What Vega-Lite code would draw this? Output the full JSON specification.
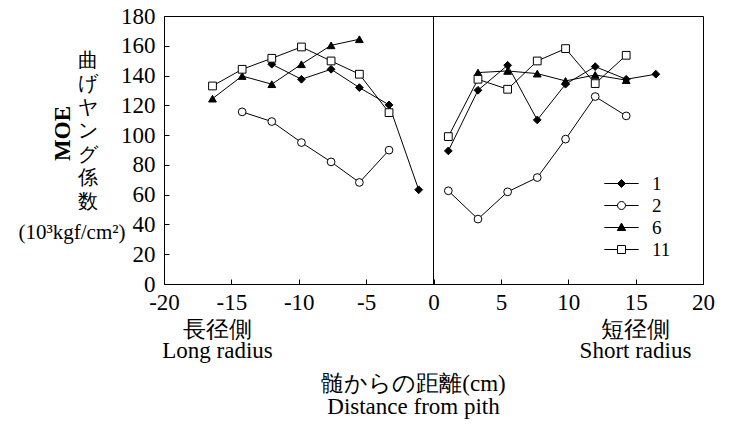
{
  "$schema": "https://vega.github.io/schema/vega-lite/v6.json",
  "width": 539,
  "height": 268,
  "autosize": {"type": "none"},
  "padding": {"left": 164, "top": 16, "right": 27, "bottom": 145},
  "background": "white",
  "data": {
    "values": [
      {"series": "1", "side": "L", "x": -12.0, "y": 147.6},
      {"series": "1", "side": "L", "x": -9.8, "y": 137.5},
      {"series": "1", "side": "L", "x": -7.6, "y": 144.2},
      {"series": "1", "side": "L", "x": -5.5, "y": 131.9},
      {"series": "1", "side": "L", "x": -3.3, "y": 120.3},
      {"series": "1", "side": "L", "x": -1.1, "y": 63.3},
      {"series": "1", "side": "R", "x": 1.1, "y": 89.4},
      {"series": "1", "side": "R", "x": 3.3, "y": 130.1},
      {"series": "1", "side": "R", "x": 5.5, "y": 146.9},
      {"series": "1", "side": "R", "x": 7.7, "y": 110.2},
      {"series": "1", "side": "R", "x": 9.8, "y": 134.2},
      {"series": "1", "side": "R", "x": 12.0, "y": 146.0},
      {"series": "1", "side": "R", "x": 14.3, "y": 137.5},
      {"series": "1", "side": "R", "x": 16.5, "y": 140.9},
      {"series": "2", "side": "L", "x": -14.2, "y": 115.6},
      {"series": "2", "side": "L", "x": -12.0, "y": 109.1},
      {"series": "2", "side": "L", "x": -9.8, "y": 95.0},
      {"series": "2", "side": "L", "x": -7.6, "y": 82.0},
      {"series": "2", "side": "L", "x": -5.5, "y": 68.2},
      {"series": "2", "side": "L", "x": -3.3, "y": 89.9},
      {"series": "2", "side": "R", "x": 1.1, "y": 62.6},
      {"series": "2", "side": "R", "x": 3.3, "y": 43.6},
      {"series": "2", "side": "R", "x": 5.5, "y": 61.9},
      {"series": "2", "side": "R", "x": 7.7, "y": 71.5},
      {"series": "2", "side": "R", "x": 9.8, "y": 97.3},
      {"series": "2", "side": "R", "x": 12.0, "y": 125.9},
      {"series": "2", "side": "R", "x": 14.3, "y": 112.9},
      {"series": "6", "side": "L", "x": -16.4, "y": 124.5},
      {"series": "6", "side": "L", "x": -14.2, "y": 139.7},
      {"series": "6", "side": "L", "x": -12.0, "y": 134.2},
      {"series": "6", "side": "L", "x": -9.8, "y": 147.6},
      {"series": "6", "side": "L", "x": -7.6, "y": 160.3},
      {"series": "6", "side": "L", "x": -5.5, "y": 164.4},
      {"series": "6", "side": "R", "x": 3.3, "y": 142.0},
      {"series": "6", "side": "R", "x": 5.5, "y": 143.1},
      {"series": "6", "side": "R", "x": 7.7, "y": 141.3},
      {"series": "6", "side": "R", "x": 9.8, "y": 136.4},
      {"series": "6", "side": "R", "x": 12.0, "y": 140.4},
      {"series": "6", "side": "R", "x": 14.3, "y": 136.9},
      {"series": "11", "side": "L", "x": -16.4, "y": 133.0},
      {"series": "11", "side": "L", "x": -14.2, "y": 144.2},
      {"series": "11", "side": "L", "x": -12.0, "y": 151.6},
      {"series": "11", "side": "L", "x": -9.8, "y": 159.2},
      {"series": "11", "side": "L", "x": -7.6, "y": 149.8},
      {"series": "11", "side": "L", "x": -5.5, "y": 140.9},
      {"series": "11", "side": "L", "x": -3.3, "y": 115.1},
      {"series": "11", "side": "R", "x": 1.1, "y": 99.0},
      {"series": "11", "side": "R", "x": 3.3, "y": 137.5},
      {"series": "11", "side": "R", "x": 5.5, "y": 130.8},
      {"series": "11", "side": "R", "x": 7.7, "y": 149.8},
      {"series": "11", "side": "R", "x": 9.8, "y": 158.1},
      {"series": "11", "side": "R", "x": 12.0, "y": 134.6},
      {"series": "11", "side": "R", "x": 14.3, "y": 153.6}
    ]
  },
  "layer": [
    {
      "mark": {"type": "line", "color": "black", "strokeWidth": 1},
      "encoding": {
        "x": {
          "field": "x", "type": "quantitative",
          "scale": {"domain": [-20, 20], "nice": false},
          "axis": {
            "values": [-20, -15, -10, -5, 0, 5, 10, 15, 20],
            "labelExpr": "'' + datum.value",
            "labelFlush": false,
            "tickSize": -5,
            "labelPadding": 12,
            "labelFont": "Liberation Serif",
            "labelFontSize": 23,
            "title": ["長径側", "Long radius"],
            "titleFont": "Liberation Serif",
            "titleX": 53, "titleY": 52,
            "titleAlign": "center", "titleBaseline": "alphabetic", "titleAngle": 0,
            "titleFontSize": 23, "titleLineHeight": 21
          }
        },
        "y": {
          "field": "y", "type": "quantitative",
          "scale": {"domain": [0, 180], "nice": false},
          "axis": {
            "values": [0, 20, 40, 60, 80, 100, 120, 140, 160, 180],
            "tickSize": -5,
            "labelPadding": 14,
            "labelFont": "Liberation Serif",
            "labelFontSize": 23,
            "title": "MOE",
            "titleFont": "Liberation Serif",
            "titleFontWeight": "bold",
            "titleAngle": 270,
            "titleX": -102, "titleY": 117,
            "titleAlign": "center", "titleBaseline": "middle",
            "titleFontSize": 23
          }
        },
        "detail": [{"field": "series"}, {"field": "side"}]
      }
    },
    {
      "mark": {"type": "point", "filled": true, "size": 60, "strokeWidth": 1, "opacity": 1},
      "encoding": {
        "x": {
          "field": "x", "type": "quantitative",
          "axis": {
            "orient": "bottom", "labels": false, "ticks": false, "domain": false,
            "title": ["短径側", "Short radius"],
            "titleFont": "Liberation Serif",
            "titleX": 471, "titleY": 52,
            "titleAlign": "center", "titleBaseline": "alphabetic", "titleAngle": 0,
            "titleFontSize": 23, "titleLineHeight": 21
          }
        },
        "y": {
          "field": "y", "type": "quantitative",
          "axis": {
            "orient": "left", "labels": false, "ticks": false, "domain": false,
            "title": ["曲", "げ", "ヤ", "ン", "グ", "係", "数"],
            "titleFont": "Liberation Serif",
            "titleX": -77, "titleY": 50,
            "titleAngle": 0, "titleAlign": "center", "titleBaseline": "alphabetic",
            "titleFontSize": 20, "titleLineHeight": 23.5
          }
        },
        "shape": {
          "field": "series", "type": "nominal",
          "scale": {"domain": ["1", "2", "6", "11"], "range": ["diamond", "circle", "triangle-up", "square"]},
          "legend": null
        },
        "fill": {
          "field": "series", "type": "nominal",
          "scale": {"domain": ["1", "2", "6", "11"], "range": ["black", "white", "black", "white"]},
          "legend": null
        },
        "stroke": {
          "field": "series", "type": "nominal",
          "scale": {"domain": ["1", "2", "6", "11"], "range": ["black", "black", "black", "black"]},
          "legend": null
        }
      }
    },
    {
      "transform": [{"filter": "false"}],
      "mark": {"type": "point", "filled": true, "strokeWidth": 1, "opacity": 1},
      "encoding": {
        "x": {"field": "x", "type": "quantitative", "axis": null},
        "y": {"field": "y", "type": "quantitative", "axis": null},
        "shape": {
          "field": "series", "type": "nominal",
          "scale": {"domain": ["1", "2", "6", "11"], "range": [
            "M-4.3,0H4.3M0,-1L1,0L0,1L-1,0Z",
            "M-4.3,0H-1M1,0H4.3M1,0C1,0.55 0.55,1 0,1C-0.55,1 -1,0.55 -1,0C-1,-0.55 -0.55,-1 0,-1C0.55,-1 1,-0.55 1,0Z",
            "M-4.3,0H4.3M0,-1.1L1.05,0.75L-1.05,0.75Z",
            "M-4.3,0H-1M1,0H4.3M-1,-1H1V1H-1Z"
          ]},
          "legend": {
            "orient": "none", "legendX": 448, "legendY": 158, "title": null,
            "labelFont": "Liberation Serif", "labelFontSize": 19, "labelOffset": 21, "symbolSize": 64,
            "symbolStrokeWidth": 1, "rowPadding": 2, "padding": 0
          }
        },
        "fill": {
          "field": "series", "type": "nominal",
          "scale": {"domain": ["1", "2", "6", "11"], "range": ["black", "white", "black", "white"]},
          "legend": {
            "orient": "none", "legendX": 448, "legendY": 158, "title": null,
            "labelFont": "Liberation Serif", "labelFontSize": 19, "labelOffset": 21, "symbolSize": 64,
            "symbolStrokeWidth": 1, "rowPadding": 2, "padding": 0
          }
        },
        "stroke": {
          "field": "series", "type": "nominal",
          "scale": {"domain": ["1", "2", "6", "11"], "range": ["black", "black", "black", "black"]},
          "legend": {
            "orient": "none", "legendX": 448, "legendY": 158, "title": null,
            "labelFont": "Liberation Serif", "labelFontSize": 19, "labelOffset": 21, "symbolSize": 64,
            "symbolStrokeWidth": 1, "rowPadding": 2, "padding": 0
          }
        }
      }
    },
    {
      "mark": {"type": "rule", "color": "black", "strokeWidth": 1},
      "encoding": {
        "x": {
          "datum": 0, "type": "quantitative",
          "axis": {
            "orient": "bottom", "labels": false, "ticks": false, "domain": false,
            "title": ["髄からの距離(cm)", "Distance from pith"],
            "titleFont": "Liberation Serif",
            "titleX": 249, "titleY": 106,
            "titleAlign": "center", "titleBaseline": "alphabetic", "titleAngle": 0,
            "titleFontSize": 23, "titleLineHeight": 23
          }
        },
        "y": {
          "datum": 0, "type": "quantitative",
          "axis": {
            "orient": "left", "labels": false, "ticks": false, "domain": false,
            "title": "(10³kgf/cm²)",
            "titleFont": "Liberation Serif",
            "titleX": -92.5, "titleY": 222,
            "titleAngle": 0, "titleAlign": "center", "titleBaseline": "alphabetic",
            "titleFontSize": 21
          }
        },
        "y2": {"datum": 180}
      }
    }
  ],
  "resolve": {
    "axis": {"x": "independent", "y": "independent"},
    "scale": {"shape": "independent", "fill": "independent", "stroke": "independent"},
    "legend": {"shape": "independent", "fill": "independent", "stroke": "independent"}
  },
  "config": {
    "font": "Liberation Serif",
    "view": {"stroke": "black", "strokeWidth": 1},
    "axis": {
      "grid": false,
      "domainColor": "black", "domainWidth": 1,
      "tickColor": "black", "tickWidth": 1,
      "labelColor": "black", "titleColor": "black",
      "titleFontWeight": "normal"
    },
    "legend": {
      "labelColor": "black"
    }
  }
}
